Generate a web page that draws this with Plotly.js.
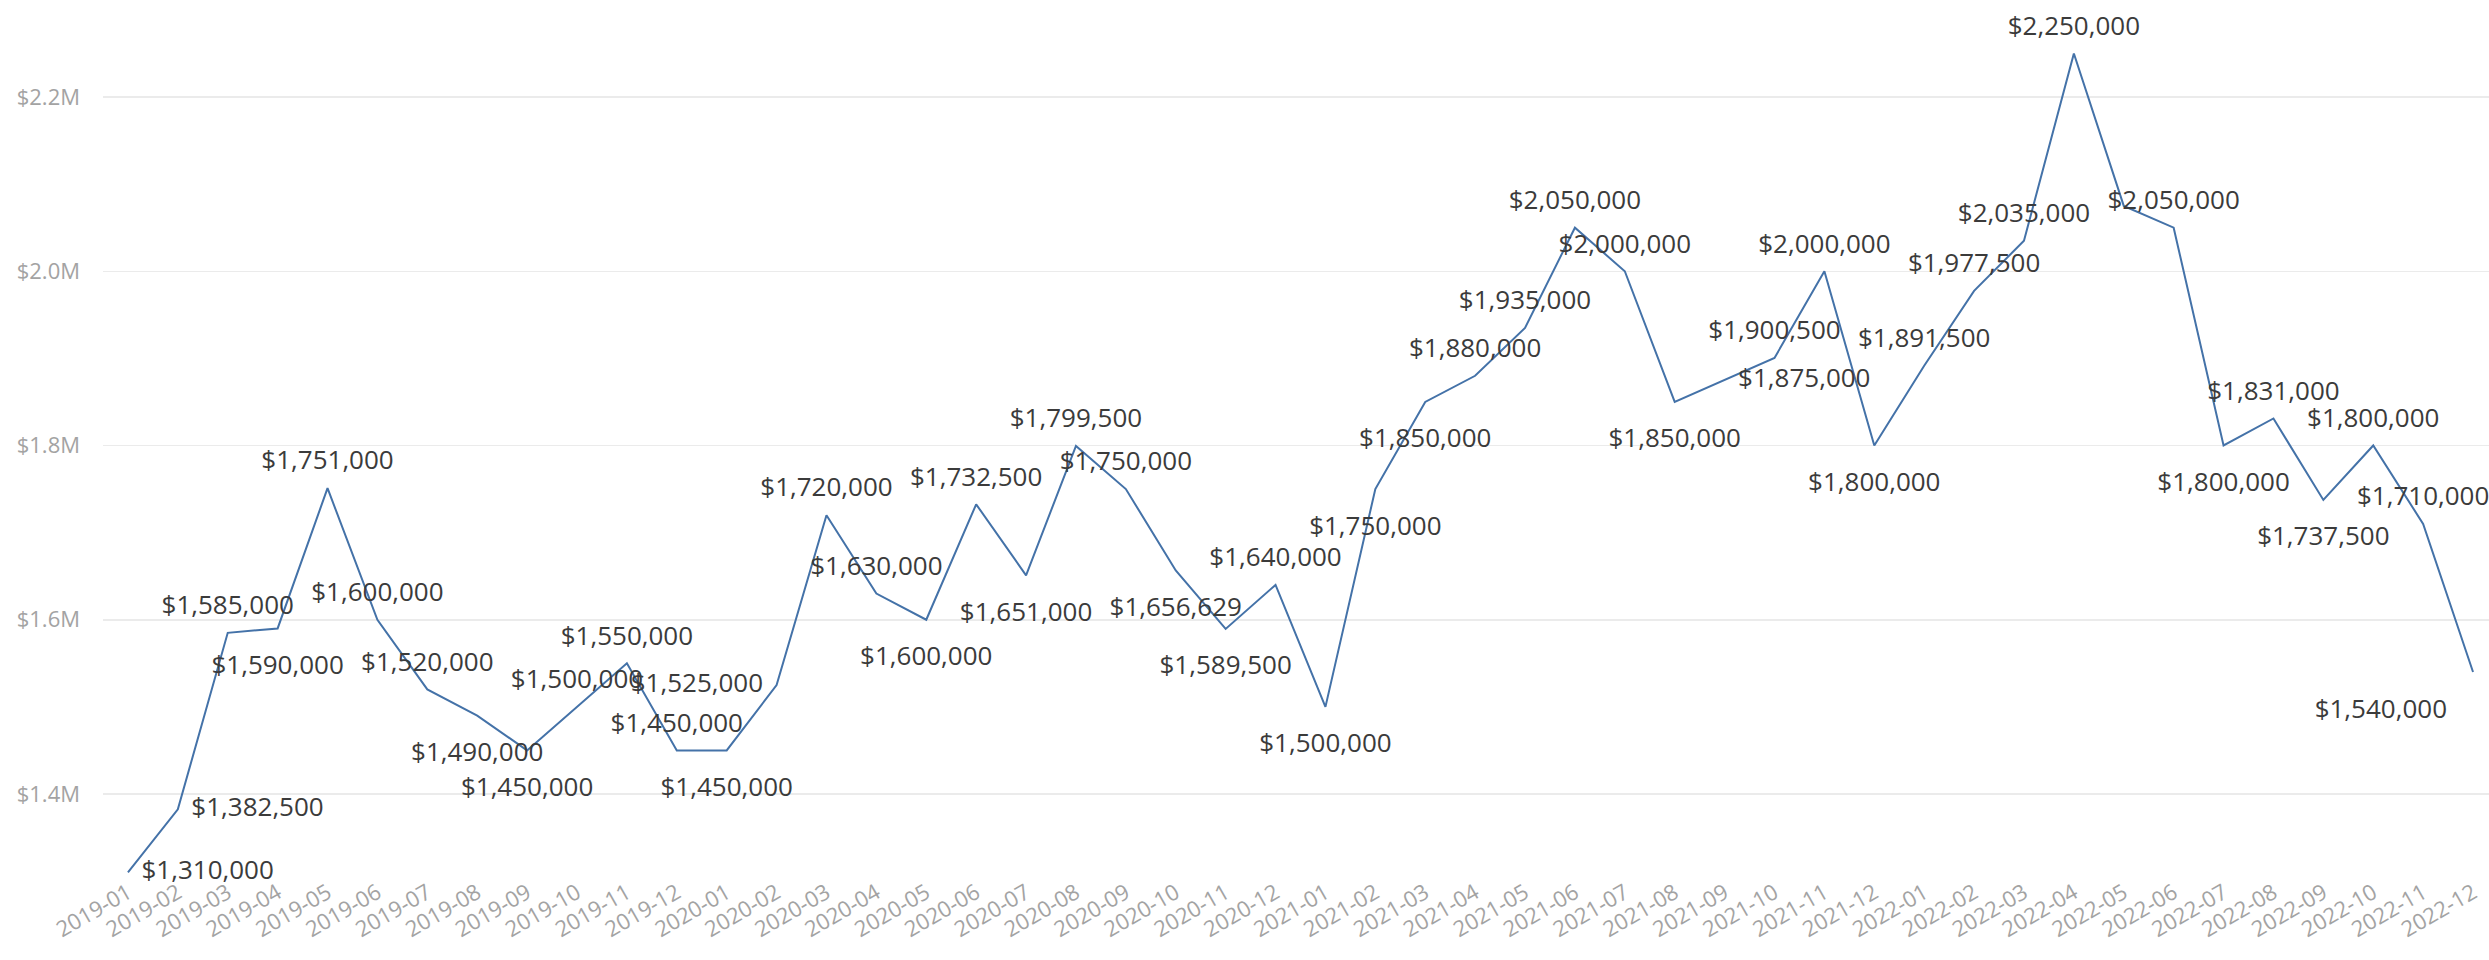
<!DOCTYPE html>
<html>
<head>
<meta charset="utf-8">
<script src="https://cdn.plot.ly/plotly-3.0.1.min.js"></script>
<style>
  html, body { margin: 0; padding: 0; background: #ffffff; overflow: hidden; }
  #chart { width: 2489px; height: 960px; }
</style>
</head>
<body>
<div id="chart"></div>
<script>
// ---- Data ----
const months = [
  "2019-01","2019-02","2019-03","2019-04","2019-05","2019-06","2019-07","2019-08","2019-09","2019-10","2019-11","2019-12",
  "2020-01","2020-02","2020-03","2020-04","2020-05","2020-06","2020-07","2020-08","2020-09","2020-10","2020-11","2020-12",
  "2021-01","2021-02","2021-03","2021-04","2021-05","2021-06","2021-07","2021-08","2021-09","2021-10","2021-11","2021-12",
  "2022-01","2022-02","2022-03","2022-04","2022-05","2022-06","2022-07","2022-08","2022-09","2022-10","2022-11","2022-12"
];
const values = [
  1310000, 1382500, 1585000, 1590000, 1751000, 1600000, 1520000, 1490000, 1450000, 1500000, 1550000, 1450000,
  1450000, 1525000, 1720000, 1630000, 1600000, 1732500, 1651000, 1799500, 1750000, 1656629, 1589500, 1640000,
  1500000, 1750000, 1850000, 1880000, 1935000, 2050000, 2000000, 1850000, 1875000, 1900500, 2000000, 1800000,
  1891500, 1977500, 2035000, 2250000, 2075000, 2050000, 1800000, 1831000, 1737500, 1800000, 1710000, 1540000
];
// where each data label sits relative to its point ("" = label hidden)
const labelPos = [
  "middle right","middle right","top center","bottom center","top center","top center","top center","bottom center","bottom center","top center","top center","top center",
  "bottom center","middle left","top center","top center","bottom center","top center","bottom center","top center","top center","bottom center","bottom center","top center",
  "bottom center","bottom center","bottom center","top center","top center","top center","top center","bottom center","middle right","top center","top center","bottom center",
  "top center","top center","top center","top center","","top center","bottom center","top center","bottom center","top center","top center","bottom left"
];
const yTickVals = [1400000, 1600000, 1800000, 2000000, 2200000];
const yTickText = ["$1.4M", "$1.6M", "$1.8M", "$2.0M", "$2.2M"];

// ---- Build ----
const fmt = v => "$" + v.toLocaleString("en-US");
const labels = values.map((v, i) => labelPos[i] ? fmt(v) : "");
const positions = labelPos.map(p => p || "top center");
// invisible marker size controls label distance from the point
const gapSize = { top: 18, bottom: 40, middle: 20 };
const markerSizes = positions.map(p => gapSize[p.split(" ")[0]]);

const FONT = "Open Sans, Noto Sans, sans-serif";

const trace = {
  type: "scatter",
  mode: "lines+markers+text",
  x: months,
  y: values,
  text: labels,
  textposition: positions,
  textfont: { family: FONT, size: 26, color: "#3b3b3b" },
  line: { color: "#4472a8", width: 2 },
  marker: { size: markerSizes, color: "rgba(0,0,0,0)", line: { width: 0 } },
  cliponaxis: false,
  hoverinfo: "skip"
};

const layout = {
  width: 2489,
  height: 960,
  paper_bgcolor: "#ffffff",
  plot_bgcolor: "#ffffff",
  margin: { l: 103, r: 0, t: 0, b: 85 },
  showlegend: false,
  xaxis: {
    type: "category",
    categoryorder: "array",
    categoryarray: months,
    range: [-0.5, 47.32],
    showgrid: false,
    zeroline: false,
    showline: false,
    ticks: "",
    tickangle: -30,
    tickfont: { family: FONT, size: 22, color: "#a3a3a3" },
    automargin: false
  },
  yaxis: {
    range: [1307030, 2311334],
    tickvals: yTickVals,
    ticktext: yTickText,
    showgrid: true,
    gridcolor: "#ebebeb",
    gridwidth: 1.5,
    zeroline: false,
    showline: false,
    ticks: "",
    ticklabelstandoff: 22,
    tickfont: { family: FONT, size: 22, color: "#a3a3a3" },
    automargin: false
  },
  hovermode: false
};

Plotly.newPlot("chart", [trace], layout, { displayModeBar: false, staticPlot: true });
</script>
</body>
</html>
